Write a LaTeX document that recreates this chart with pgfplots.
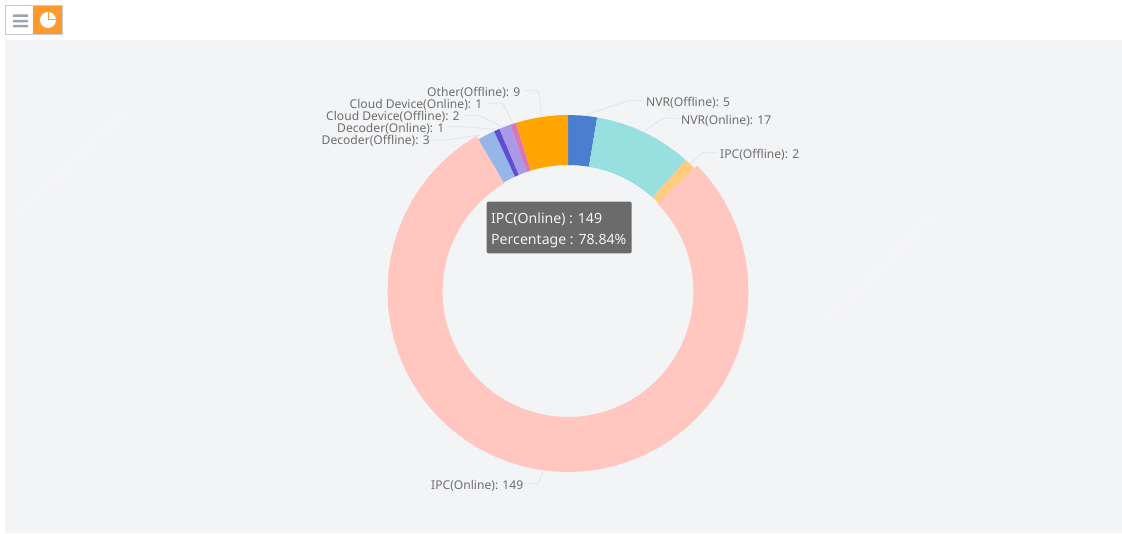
\documentclass[border=0pt]{standalone}
\usepackage{fontspec}
\setmainfont{Noto Sans}
\usepackage{pgfplots}
\usepgfplotslibrary{polar}
\pgfplotsset{compat=1.18}
\definecolor{panel}{HTML}{F3F4F6}
\definecolor{lead}{HTML}{E4E5E8}
\definecolor{lbl}{HTML}{6E6E6E}
\definecolor{cNVRoff}{HTML}{4A7FD0}
\definecolor{cNVRon}{HTML}{98E0E0}
\definecolor{cIPCoff}{HTML}{FFCC7F}
\definecolor{cIPCon}{HTML}{FFC7C0}
\definecolor{cDecoff}{HTML}{96B6E8}
\definecolor{cDecon}{HTML}{5F4FD0}
\definecolor{cCloff}{HTML}{A89AE8}
\definecolor{cClon}{HTML}{D878B8}
\definecolor{cOther}{HTML}{FFA500}
\definecolor{tip}{HTML}{6B6B6B}
\definecolor{btn}{HTML}{FF9A2E}
\definecolor{btnb}{HTML}{C8CCD0}
\definecolor{bars}{HTML}{9AA5B5}
\definecolor{wm}{HTML}{F7F7F9}
\begin{document}
\begin{tikzpicture}[x=1pt,y=-1pt,font=\fontsize{12.1}{13}\selectfont]
\path[fill=white] (0,0) rectangle (1122,534);
\fill[panel] (5,40) rectangle (1122,533);
% faint watermark
\begin{scope}[every node/.style={rotate=45,text=wm,inner sep=0pt,font=\fontsize{12.5}{14}\selectfont\bfseries}]
\foreach \a/\b in {70/165,883/267}
  \node at (\a,\b) {h01484,F8:B1:56:B9:6C:E2};
\end{scope}
% toolbar
\fill[white] (5,5) rectangle (33,34);
\fill[btn] (33,5) rectangle (62,34);
\draw[btnb,line width=0.8pt] (5.5,5.5) rectangle (62,34);
\fill[bars] (13,14.5) rectangle (28,17) (13,20) rectangle (28,22.5) (13,25) rectangle (28,27.5);
\fill[white] (48,20) circle[radius=8];
\draw[btn,line width=1pt] (48.5,11) -- (48.5,19.5) -- (57,19.5);
% values: 5, 17, 2, 149, 3, 1, 2, 1, 9 (total 189), clockwise from the top
\begin{polaraxis}[at={(568pt,-291.5pt)},anchor=center,scale only axis,width=400pt,height=400pt,
  xmin=0,xmax=360,ymin=0,ymax=200,hide axis,clip=false]
% IPC(Online) 149
\addplot[fill=cIPCon,draw=none] coordinates {
(44.29,180.5)(40,180.5)(35,180.5)(30,180.5)(25,180.5)(20,180.5)(15,180.5)(10,180.5)(5,180.5)(0,180.5)
(-5,180.5)(-10,180.5)(-15,180.5)(-20,180.5)(-25,180.5)(-30,180.5)(-35,180.5)(-40,180.5)(-45,180.5)(-50,180.5)
(-55,180.5)(-60,180.5)(-65,180.5)(-70,180.5)(-75,180.5)(-80,180.5)(-85,180.5)(-90,180.5)(-95,180.5)(-100,180.5)
(-105,180.5)(-110,180.5)(-115,180.5)(-120,180.5)(-125,180.5)(-130,180.5)(-135,180.5)(-140,180.5)(-145,180.5)(-150,180.5)
(-155,180.5)(-160,180.5)(-165,180.5)(-170,180.5)(-175,180.5)(-180,180.5)(-185,180.5)(-190,180.5)(-195,180.5)(-200,180.5)
(-205,180.5)(-210,180.5)(-215,180.5)(-220,180.5)(-225,180.5)(-230,180.5)(-235,180.5)(-239.52,180.5)
(-239.52,125.5)(-235,125.5)(-230,125.5)(-225,125.5)(-220,125.5)(-215,125.5)(-210,125.5)(-205,125.5)
(-200,125.5)(-195,125.5)(-190,125.5)(-185,125.5)(-180,125.5)(-175,125.5)(-170,125.5)(-165,125.5)(-160,125.5)(-155,125.5)
(-150,125.5)(-145,125.5)(-140,125.5)(-135,125.5)(-130,125.5)(-125,125.5)(-120,125.5)(-115,125.5)(-110,125.5)(-105,125.5)
(-100,125.5)(-95,125.5)(-90,125.5)(-85,125.5)(-80,125.5)(-75,125.5)(-70,125.5)(-65,125.5)(-60,125.5)(-55,125.5)
(-50,125.5)(-45,125.5)(-40,125.5)(-35,125.5)(-30,125.5)(-25,125.5)(-20,125.5)(-15,125.5)(-10,125.5)(-5,125.5)
(0,125.5)(5,125.5)(10,125.5)(15,125.5)(20,125.5)(25,125.5)(30,125.5)(35,125.5)(40,125.5)(44.29,125.5)} -- cycle;
% NVR(Offline) 5
\addplot[fill=cNVRoff,draw=none] coordinates {
(90,176.5)(86,176.5)(83,176.5)(80.48,176.5)(80.48,126.5)(83,126.5)(86,126.5)(90,126.5)} -- cycle;
% NVR(Online) 17
\addplot[fill=cNVRon,draw=none] coordinates {
(80.48,176.5)(76,176.5)(72,176.5)(68,176.5)(64,176.5)(60,176.5)(56,176.5)(52,176.5)(48.10,176.5)
(48.10,126.5)(52,126.5)(56,126.5)(60,126.5)(64,126.5)(68,126.5)(72,126.5)(76,126.5)(80.48,126.5)} -- cycle;
% IPC(Offline) 2
\addplot[fill=cIPCoff,draw=none] coordinates {
(48.10,176.5)(46.2,176.5)(44.29,176.5)(44.29,126.5)(46.2,126.5)(48.10,126.5)} -- cycle;
% Decoder(Offline) 3
\addplot[fill=cDecoff,draw=none] coordinates {
(120.48,176.5)(118,176.5)(116,176.5)(114.76,176.5)(114.76,126.5)(116,126.5)(118,126.5)(120.48,126.5)} -- cycle;
% Decoder(Online) 1
\addplot[fill=cDecon,draw=none] coordinates {
(114.76,176.5)(112.86,176.5)(112.86,126.5)(114.76,126.5)} -- cycle;
% Cloud Device(Offline) 2
\addplot[fill=cCloff,draw=none] coordinates {
(112.86,176.5)(111,176.5)(109.05,176.5)(109.05,126.5)(111,126.5)(112.86,126.5)} -- cycle;
% Cloud Device(Online) 1
\addplot[fill=cClon,draw=none] coordinates {
(109.05,176.5)(107.14,176.5)(107.14,126.5)(109.05,126.5)} -- cycle;
% Other(Offline) 9
\addplot[fill=cOther,draw=none] coordinates {
(107.14,176.5)(104,176.5)(100,176.5)(96,176.5)(93,176.5)(90,176.5)(90,126.5)(93,126.5)(96,126.5)(100,126.5)(104,126.5)(107.14,126.5)} -- cycle;
\end{polaraxis}
% leader lines
\begin{scope}[color=lead,line width=0.8pt]
\draw (523,90.7)--(538.3,90.7)--(541.7,116.7);
\draw (486.7,103.3)--(502.7,103.3)--(513.3,124.3);
\draw (464,115.7)--(480,115.7)--(503.3,127.3);
\draw (446,126.7)--(461.7,126.7)--(495,129.3);
\draw (430.7,140)--(446.7,140)--(480,135);
\draw (643.3,100.7)--(628.3,100.7)--(583.3,115.7);
\draw (678.3,118.3)--(663.3,118.3)--(643.3,131.7);
\draw (717.3,152.7)--(702.7,152.7)--(690,164.3);
\draw (522.7,483.3)--(538.3,483.3)--(543.3,470.7);
\end{scope}
% labels
\begin{scope}[every node/.style={inner sep=0pt,anchor=mid west,text=lbl}]
\node at (427,94) {Other(Offline): 9};
\node at (349.5,106) {Cloud Device(Online): 1};
\node at (326,118) {Cloud Device(Offline): 2};
\node at (337,130) {Decoder(Online): 1};
\node at (321.5,142) {Decoder(Offline): 3};
\node at (646,104) {NVR(Offline): 5};
\node at (681,122) {NVR(Online): 17};
\node at (720,155.5) {IPC(Offline): 2};
\node at (431,486.5) {IPC(Online): 149};
\end{scope}
% tooltip
\fill[tip,rounded corners=2pt] (486.7,201.7) rectangle (631.7,253.3);
\begin{scope}[every node/.style={inner sep=0pt,anchor=mid west,text=white!95!black,font=\fontsize{14.1}{15}\selectfont}]
\node at (491,221) {IPC(Online) : 149};
\node at (491,242) {Percentage : 78.84\%};
\end{scope}
\end{tikzpicture}
\end{document}
